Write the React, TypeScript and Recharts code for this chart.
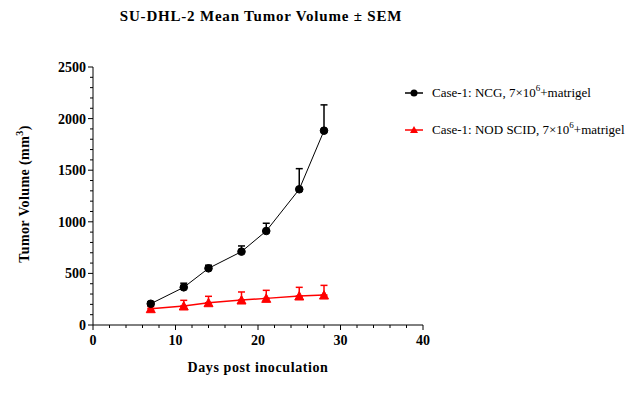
import { ErrorBar, Line, LineChart, XAxis, YAxis } from "recharts";

const days = [7, 11, 14, 18, 21, 25, 28];
const ncgMean = [206, 365, 549, 711, 911, 1315, 1883];
const ncgSem = [20, 40, 30, 55, 75, 200, 250];
const scidMean = [158, 184, 216, 242, 258, 281, 290];
const scidSem = [20, 55, 62, 78, 78, 84, 94];

const xTicks = Array.from({ length: 21 }, (_, i) => i * 2);
const yTicks = Array.from({ length: 26 }, (_, i) => i * 100);

const data = days.map((d, i) => ({
    day: d,
    ncg: ncgMean[i],
    ncgErr: [0, ncgSem[i]],
    scid: scidMean[i],
    scidErr: [0, scidSem[i]],
}));

const serif = "'Liberation Serif', 'Times New Roman', serif";

const YTick = ({ x, y, payload }: any) => {
    const major = payload.value % 500 === 0;
    return (
        <g>
            <line x1={x - (major ? 5 : 3)} x2={x} y1={y} y2={y} stroke="#000" strokeWidth={1} />
            {major && (
                <text x={x - 7} y={y} dy={5} textAnchor="end" fontFamily={serif} fontWeight="bold" fontSize={14} fill="#000">
                    {payload.value}
                </text>
            )}
        </g>
    );
};

const XTick = ({ x, y, payload }: any) => {
    const major = payload.value % 10 === 0;
    return (
        <g>
            <line x1={x} x2={x} y1={y} y2={y + (major ? 5 : 3)} stroke="#000" strokeWidth={1} />
            {major && (
                <text x={x} y={y + 20} textAnchor="middle" fontFamily={serif} fontWeight="bold" fontSize={14} fill="#000">
                    {payload.value}
                </text>
            )}
        </g>
    );
};

const Triangle = ({ cx, cy, key }: any) => (
    <polygon key={key} points={`${cx},${cy - 4.5} ${cx - 4.5},${cy + 4} ${cx + 4.5},${cy + 4}`} fill="#ff0000" stroke="#ff0000" />
);

const LegendRow = ({ color, shape, label, top }: { color: string; shape: "circle" | "tri"; label: string; top: number }) => (
    <div style={{ position: "absolute", left: 404, top, display: "flex", alignItems: "center", whiteSpace: "nowrap" }}>
        <svg width={20} height={12} style={{ marginRight: 8 }}>
            <line x1={1} x2={19} y1={6} y2={6} stroke={color} strokeWidth={1.5} />
            {shape === "circle" ? (
                <circle cx={10} cy={6} r={3.5} fill={color} />
            ) : (
                <polygon points="10,2 6,9 14,9" fill={color} />
            )}
        </svg>
        <span style={{ fontFamily: serif, fontSize: 13, color: "#000" }}>
            {label}7×10<sup style={{ fontSize: 9, verticalAlign: "6px", lineHeight: 0 }}>6</sup>+matrigel
        </span>
    </div>
);

export default function App() {
    return (
        <div style={{ position: "absolute", left: 0, top: 0, width: 642, height: 408, background: "#fff" }}>
            <div
                style={{
                    position: "absolute",
                    left: 0,
                    top: 8,
                    width: 522,
                    textAlign: "center",
                    fontFamily: serif,
                    fontWeight: "bold",
                    fontSize: 15,
                    letterSpacing: 0.8,
                }}
            >
                SU-DHL-2 Mean Tumor Volume ± SEM
            </div>
            <LineChart width={642} height={408} data={data} margin={{ top: 67, right: 219, bottom: 0, left: 0 }}>
                <XAxis
                    dataKey="day"
                    type="number"
                    domain={[0, 40]}
                    ticks={xTicks}
                    interval={0}
                    height={83}
                    tickSize={0}
                    tickMargin={0}
                    tick={<XTick />}
                    axisLine={{ stroke: "#000" }}
                    tickLine={false}
                />
                <YAxis
                    type="number"
                    domain={[0, 2500]}
                    ticks={yTicks}
                    interval={0}
                    width={93}
                    tickSize={0}
                    tickMargin={0}
                    tick={<YTick />}
                    axisLine={{ stroke: "#000" }}
                    tickLine={false}
                />
                <Line
                    dataKey="scid"
                    stroke="#ff0000"
                    strokeWidth={1.5}
                    dot={<Triangle />}
                    isAnimationActive={false}
                >
                    <ErrorBar dataKey="scidErr" direction="y" width={3.5} stroke="#ff0000" strokeWidth={1.5} />
                </Line>
                <Line
                    dataKey="ncg"
                    stroke="#000"
                    strokeWidth={1}
                    dot={{ r: 3.8, fill: "#000", stroke: "#000", strokeWidth: 1 }}
                    isAnimationActive={false}
                >
                    <ErrorBar dataKey="ncgErr" direction="y" width={3.5} stroke="#000" strokeWidth={1.5} />
                </Line>
            </LineChart>
            <div
                style={{
                    position: "absolute",
                    left: 25,
                    top: 194,
                    transform: "translate(-50%, -50%) rotate(-90deg)",
                    fontFamily: serif,
                    fontWeight: "bold",
                    fontSize: 14,
                    letterSpacing: 0.4,
                    whiteSpace: "nowrap",
                }}
            >
                Tumor Volume (mm<sup style={{ fontSize: 10, verticalAlign: "6px", lineHeight: 0 }}>3</sup>)
            </div>
            <div
                style={{
                    position: "absolute",
                    left: 93,
                    top: 360,
                    width: 330,
                    textAlign: "center",
                    fontFamily: serif,
                    fontWeight: "bold",
                    fontSize: 14,
                    letterSpacing: 0.6,
                }}
            >
                Days post inoculation
            </div>
            <LegendRow color="#000" shape="circle" label="Case-1: NCG, " top={85} />
            <LegendRow color="#ff0000" shape="tri" label="Case-1: NOD SCID, " top={122} />
        </div>
    );
}
